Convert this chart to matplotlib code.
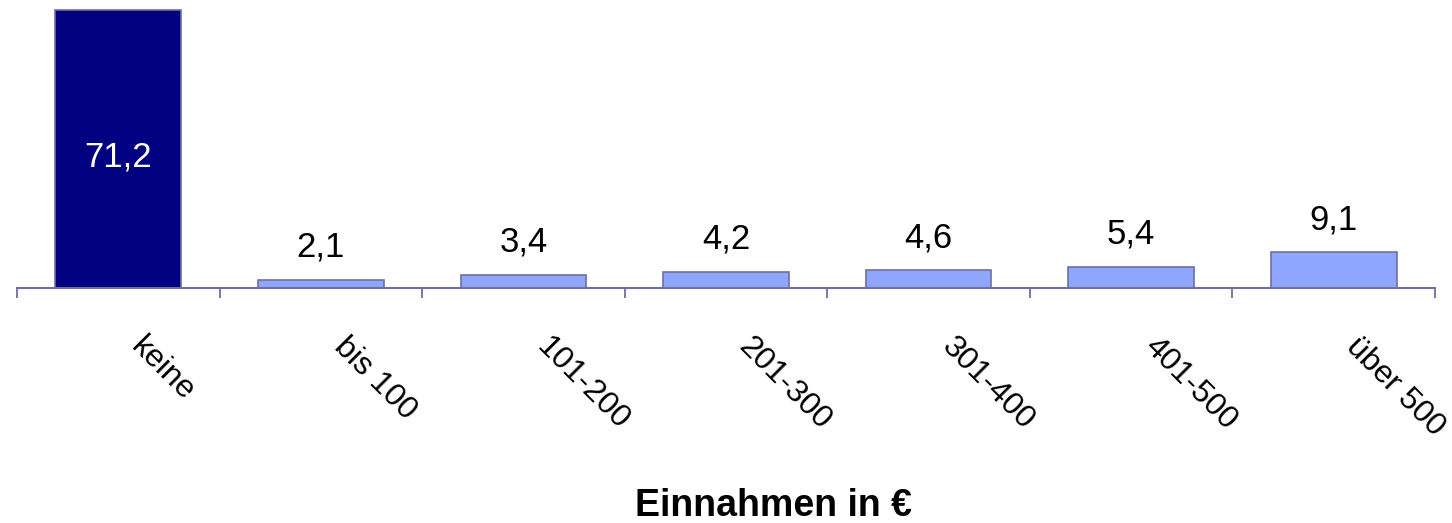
import matplotlib.pyplot as plt
import numpy as np

plt.rcParams['font.family'] = ['Liberation Sans', 'DejaVu Sans']

categories = ["keine", "bis 100", "101-200", "201-300", "301-400", "401-500", "über 500"]
values = [71.2, 2.1, 3.4, 4.2, 4.6, 5.4, 9.1]
value_labels = ["71,2", "2,1", "3,4", "4,2", "4,6", "5,4", "9,1"]

W, H = 1452, 523
fig = plt.figure(figsize=(W / 100, H / 100), dpi=100)

# axes spans the category band; x-axis line sits at y=288 px
left, right = 17, 1435
top, base = 0, 288
ax = fig.add_axes([left / W, (H - base) / H, (right - left) / W, (base - top) / H])

edge = "#6F6FA0"
colors = ["#000080"] + ["#8FA6FF"] * (len(values) - 1)
x = np.arange(len(categories))
ax.bar(x, values, width=0.62, color=colors, edgecolor=edge, linewidth=1.2, zorder=2)

ax.set_xlim(-0.5, len(categories) - 0.5)
ax.set_ylim(0, 71.2 * base / (base - 10))

for s in ["top", "left", "right"]:
    ax.spines[s].set_visible(False)
ax.spines["bottom"].set_color(edge)
ax.spines["bottom"].set_linewidth(1.5)
ax.set_yticks([])

# tick marks between categories, pointing down
ax.set_xticks(np.arange(len(categories) + 1) - 0.5)
ax.set_xticklabels([])
ax.tick_params(axis="x", direction="out", length=7.5, width=1.3, color=edge)

# category labels, slanted down to the right
for i, cat in enumerate(categories):
    ax.annotate(cat, xy=(i, 0), xytext=(28, -44), textcoords="offset pixels",
                rotation=-45, rotation_mode="anchor", ha="left", va="top",
                fontsize=23, annotation_clip=False)

# value labels: inside the tall bar, above the others
for i, (v, lab) in enumerate(zip(values, value_labels)):
    if i == 0:
        ax.annotate(lab, xy=(i, v / 2), xytext=(0, -8), textcoords="offset pixels",
                    ha="center", va="center", fontsize=25, color="white")
    else:
        ax.annotate(lab, xy=(i, v), xytext=(0, 23), textcoords="offset pixels",
                    ha="center", va="baseline", fontsize=25, color="black")

fig.text(773 / W, 1 - 506 / H, "Einnahmen in €", ha="center", va="center",
         fontsize=27, fontweight="bold")

fig.savefig("out.png", dpi=100)
